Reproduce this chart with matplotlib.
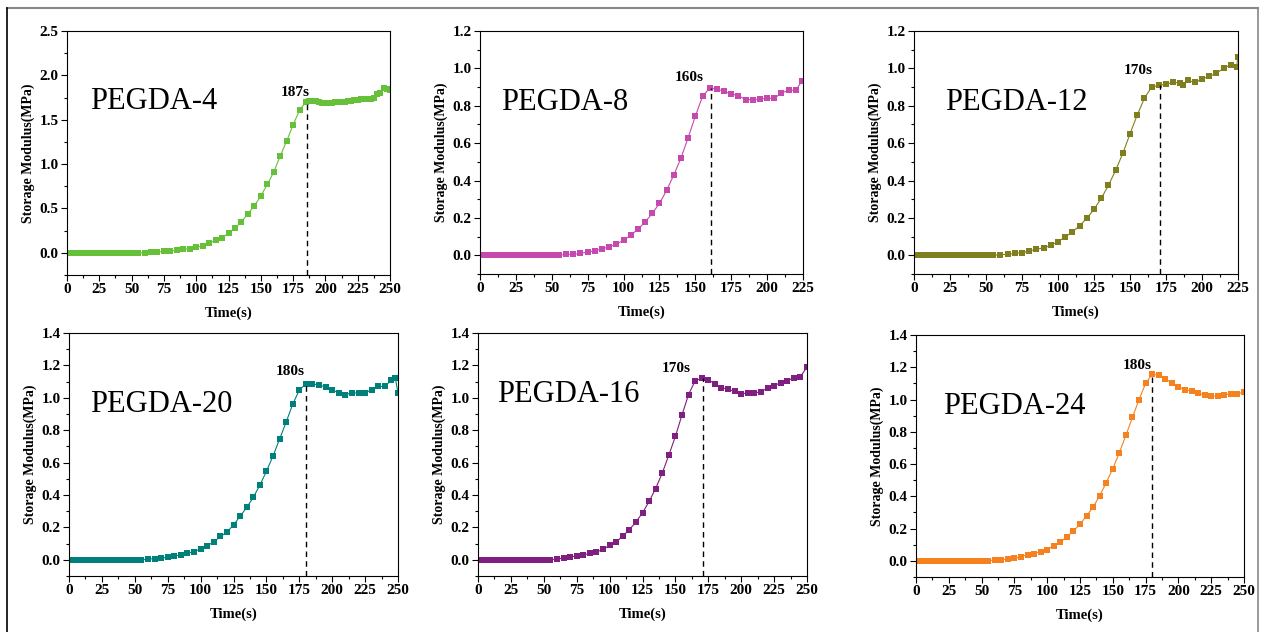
import matplotlib
matplotlib.use('Agg')
from matplotlib import pyplot as plt
from matplotlib.lines import Line2D
from matplotlib.ticker import MultipleLocator, AutoMinorLocator

plt.rcParams['font.family'] = ['Liberation Serif', 'DejaVu Serif']

# dense sampling at start (every 2.5 s up to 55 s), then every 5 s
t_start = [0, 2.5, 5, 7.5, 10, 12.5, 15, 17.5, 20, 22.5, 25, 27.5, 30, 32.5, 35,
           37.5, 40, 42.5, 45, 47.5, 50, 52.5, 55]
z_start = [0.0, 0.0, 0.0, 0.0, 0.0, 0.0, 0.0, 0.0, 0.0, 0.0, 0.0, 0.0, 0.0, 0.0, 0.0,
           0.0, 0.0, 0.0, 0.0, 0.0, 0.0, 0.0, 0.0]

# PEGDA-4
t4 = t_start + [60, 65, 70, 75, 80, 85, 90, 95, 100, 105, 110, 115, 120, 125, 130,
                135, 140, 145, 150, 155, 160, 165, 170, 175, 180, 185, 187.5, 190,
                192.5, 195, 197.5, 200, 202.5, 205, 207.5, 210, 212.5, 215, 217.5,
                220, 222.5, 225, 227.5, 230, 232.5, 235, 237.5, 240, 242.5, 245,
                247.5, 250]
g4 = z_start + [0.0, 0.005, 0.01, 0.015, 0.02, 0.03, 0.04, 0.045, 0.06,
                0.08, 0.11, 0.14, 0.17, 0.22, 0.28, 0.35, 0.44, 0.53,
                0.64, 0.77, 0.91, 1.09, 1.26, 1.44, 1.61, 1.70, 1.71,
                1.71, 1.71, 1.70, 1.69, 1.69, 1.69, 1.69, 1.70, 1.70,
                1.70, 1.70, 1.71, 1.71, 1.72, 1.72, 1.73, 1.73, 1.73,
                1.73, 1.74, 1.79, 1.80, 1.86, 1.85, 1.84]

t5 = [60, 65, 70, 75, 80, 85, 90, 95, 100, 105, 110, 115, 120, 125, 130, 135, 140,
      145, 150, 155, 160, 165, 170, 175, 180, 185, 190, 195, 200, 205, 210, 215, 220]

# PEGDA-8
t8 = t_start + t5 + [224]
g8 = z_start + [0.005, 0.005, 0.01, 0.018, 0.023, 0.035, 0.045, 0.06, 0.08, 0.107,
                0.14, 0.178, 0.224, 0.278, 0.347, 0.43, 0.52, 0.63, 0.744, 0.85,
                0.895, 0.89, 0.877, 0.863, 0.854, 0.833, 0.833, 0.836, 0.84, 0.84,
                0.868, 0.883, 0.883, 0.93]

# PEGDA-12
t12 = t_start + [60, 65, 70, 75, 80, 85, 90, 95, 100, 105, 110, 115, 120, 125, 130,
                 135, 140, 145, 150, 155, 160, 165, 170, 175, 180, 185, 187, 190, 195,
                 200, 205, 210, 215, 220, 224, 225]
g12 = z_start + [0.004, 0.005, 0.01, 0.014, 0.023, 0.032, 0.04, 0.053, 0.073, 0.098,
                 0.126, 0.157, 0.198, 0.246, 0.304, 0.374, 0.454, 0.545, 0.65, 0.75,
                 0.84, 0.90, 0.909, 0.916, 0.925, 0.922, 0.91, 0.936, 0.925, 0.943,
                 0.957, 0.974, 1.0, 1.02, 1.01, 1.06]

t_long = [60, 65, 70, 75, 80, 85, 90, 95, 100, 105, 110, 115, 120, 125, 130, 135,
          140, 145, 150, 155, 160, 165, 170, 175, 180, 185, 190, 195, 200, 205, 210,
          215, 220, 225, 230, 235, 240, 245]

# PEGDA-20
t20 = t_start + t_long + [248, 250]
g20 = z_start + [0.006, 0.006, 0.01, 0.016, 0.025, 0.03, 0.04, 0.05, 0.068, 0.087,
                 0.11, 0.144, 0.17, 0.216, 0.268, 0.323, 0.385, 0.46, 0.546, 0.64,
                 0.745, 0.85, 0.96, 1.048, 1.087, 1.087, 1.077, 1.069, 1.05, 1.03,
                 1.02, 1.03, 1.03, 1.03, 1.05, 1.07, 1.07, 1.11, 1.12, 1.03]

# PEGDA-16
t16 = t_start + t_long + [250]
g16 = z_start + [0.006, 0.01, 0.017, 0.025, 0.031, 0.04, 0.048, 0.064, 0.089, 0.11,
                 0.147, 0.186, 0.233, 0.29, 0.36, 0.44, 0.535, 0.646, 0.762, 0.894,
                 1.02, 1.105, 1.12, 1.11, 1.088, 1.063, 1.053, 1.04, 1.026, 1.029,
                 1.03, 1.037, 1.06, 1.074, 1.094, 1.105, 1.125, 1.13, 1.19]

# PEGDA-24
t24 = t_start + t_long + [250]
g24 = z_start + [0.006, 0.006, 0.012, 0.016, 0.027, 0.037, 0.045, 0.058, 0.07, 0.095,
                 0.116, 0.149, 0.186, 0.227, 0.279, 0.334, 0.403, 0.485, 0.572, 0.671,
                 0.778, 0.89, 1.0, 1.1, 1.156, 1.152, 1.13, 1.1, 1.08, 1.06, 1.053,
                 1.04, 1.028, 1.02, 1.024, 1.028, 1.037, 1.037, 1.045]

names = ['PEGDA-4', 'PEGDA-8', 'PEGDA-12', 'PEGDA-20', 'PEGDA-16', 'PEGDA-24']
times = [t4, t8, t12, t20, t16, t24]
mods = [g4, g8, g12, g20, g16, g24]
gel_t = [186, 161, 170.5, 180, 171, 180]
gel_v = [1.71, 0.895, 0.909, 1.087, 1.12, 1.156]
gel_lbl = ['187s', '160s', '170s', '180s', '170s', '180s']
colors = ['#66c03a', '#c64aad', '#7f7f20', '#00807a', '#7f1f7f', '#f5821f']

W, H = 1268, 632
fig = plt.figure(figsize=(W / 100, H / 100), dpi=100)

# axes boxes in pixels: left, top, right, bottom
boxes = [(67, 31, 390, 275), (480, 31, 803, 274), (914, 31, 1238, 274),
         (69, 333, 398, 576), (478, 333, 807, 576), (916, 335, 1244, 577)]
xmax = [250, 225, 225, 250, 250, 250]
ylims = [(-0.25, 2.5), (-0.1, 1.2), (-0.1, 1.2), (-0.1, 1.4), (-0.1, 1.4), (-0.1, 1.4)]
yticks = [[0.0, 0.5, 1.0, 1.5, 2.0, 2.5],
          [0.0, 0.2, 0.4, 0.6, 0.8, 1.0, 1.2],
          [0.0, 0.2, 0.4, 0.6, 0.8, 1.0, 1.2],
          [0.0, 0.2, 0.4, 0.6, 0.8, 1.0, 1.2, 1.4],
          [0.0, 0.2, 0.4, 0.6, 0.8, 1.0, 1.2, 1.4],
          [0.0, 0.2, 0.4, 0.6, 0.8, 1.0, 1.2, 1.4]]
name_pos = [(18, 1.70), (15, 0.82), (21.5, 0.82), (16, 0.96), (14.5, 1.02), (20.5, 0.955)]
lbl_pos = [(177, 1.81), (146, 0.95), (156, 0.99), (168, 1.16), (151, 1.18), (169, 1.21)]

for i in range(6):
    l, t, r, b = boxes[i]
    ax = fig.add_axes([l / W, (H - b) / H, (r - l) / W, (b - t) / H])
    ax.plot(times[i], mods[i], '-s', color=colors[i], lw=0.8, ms=4.9, mew=0)
    ax.plot([gel_t[i], gel_t[i]], [ylims[i][0], gel_v[i]], '--', color='black', lw=1.0,
            dashes=(4, 3))
    ax.set_xlim(0, xmax[i])
    ax.set_ylim(*ylims[i])
    ax.xaxis.set_major_locator(MultipleLocator(25))
    ax.xaxis.set_minor_locator(AutoMinorLocator(2))
    ax.set_yticks(yticks[i])
    ax.set_yticklabels(['{:.1f}'.format(v) for v in yticks[i]])
    ax.yaxis.set_minor_locator(AutoMinorLocator(2))
    ax.tick_params(which='major', direction='out', length=4, width=0.8, labelsize=11,
                   pad=2)
    ax.tick_params(which='minor', direction='out', length=2, width=0.8)
    for lab in ax.get_xticklabels() + ax.get_yticklabels():
        lab.set_fontweight('bold')
    for sp in ax.spines.values():
        sp.set_linewidth(0.8)
    ax.set_xlabel('Time(s)', fontsize=10.5, fontweight='bold', labelpad=7)
    ax.set_ylabel('Storage Modulus(MPa)', fontsize=10, fontweight='bold', labelpad=3)
    ax.text(name_pos[i][0], name_pos[i][1], names[i], fontsize=22, ha='left',
            va='center')
    ax.text(lbl_pos[i][0], lbl_pos[i][1], gel_lbl[i], fontsize=11, fontweight='bold',
            ha='center', va='center')

# outer frame
fig.add_artist(Line2D([7 / W, 1258 / W], [1 - 8 / H, 1 - 8 / H], color='#888888',
                      lw=1.5, transform=fig.transFigure))
fig.add_artist(Line2D([7 / W, 7 / W], [1 - 8 / H, 0], color='black', lw=1.2,
                      transform=fig.transFigure))
fig.add_artist(Line2D([1258 / W, 1258 / W], [1 - 8 / H, 0], color='#888888', lw=1.2,
                      transform=fig.transFigure))

fig.savefig('out.png', dpi=100)
